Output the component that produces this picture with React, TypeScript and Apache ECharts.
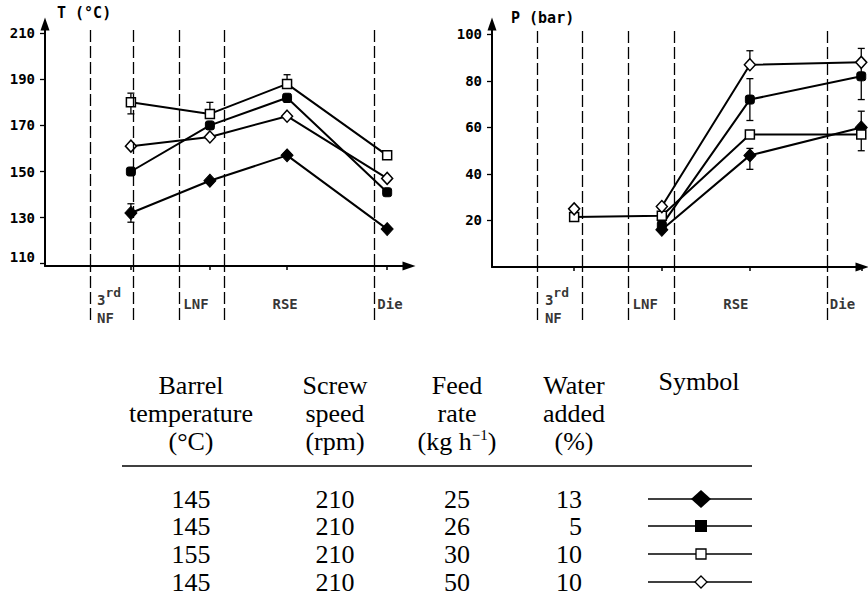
import React, { useEffect, useRef } from "react";
import * as echarts from "echarts";

// ---------- data ----------
// extruder zones (positions along the barrel, arbitrary length units 0–100)
const zoneNames = ["3rd NF", "LNF", "RSE", "Die"];
const zoneBoundaries = [12.3, 24.3, 36.8, 49.2, 90.5];
const zoneLabelX = [14.3, 38, 62.5, 91.3];

// temperature chart T (°C)
const tStagePos = [23.6, 45.3, 66.5, 94];
const tTicks = [110, 130, 150, 170, 190, 210];
const tDiamondFilled = [132, 146, 157, 125];
const tSquareFilled = [150, 170, 182, 141];
const tSquareOpen = [180, 175, 188, 157];
const tDiamondOpen = [161, 165, 174, 147];
// error bars: [series, stage index, low, high]
const tErrors: [string, number, number, number][] = [
  ["squareOpen", 0, 175, 184],
  ["squareOpen", 1, 175, 180],
  ["squareOpen", 2, 188, 192],
  ["diamondFilled", 0, 128, 136],
  ["squareFilled", 2, 180, 182],
];

// pressure chart P (bar)
const pStagePos = [22.2, 45.9, 69.7, 99.8];
const pTicks = [20, 40, 60, 80, 100];
const pDiamondFilled = [null, 16, 48, 60];
const pSquareFilled = [null, 18, 72, 82];
const pSquareOpen = [21.5, 22, 57, 57];
const pDiamondOpen = [25, 26, 87, 88];
const pUnlinkedStages: Record<string, number[]> = { diamondOpen: [0] };
const pErrors: [string, number, number, number][] = [
  ["diamondOpen", 2, 87, 93],
  ["squareFilled", 2, 63, 81],
  ["diamondFilled", 2, 42, 51],
  ["diamondOpen", 3, 88, 94],
  ["squareFilled", 3, 72, 88],
  ["diamondFilled", 3, 61, 67],
  ["squareOpen", 3, 50, 57],
];

// table
const tableHeaders = [
  ["Barrel", "temperature", "(°C)"],
  ["Screw", "speed", "(rpm)"],
  ["Feed", "rate", "(kg h{s|\u22121})"],
  ["Water", "added", "(%)"],
  ["Symbol"],
];
const seriesKeys = ["diamondFilled", "squareFilled", "squareOpen", "diamondOpen"];
const barrelTemp = [145, 145, 155, 145];
const screwSpeed = [210, 210, 210, 210];
const feedRate = [25, 26, 30, 50];
const waterAdded = [13, 5, 10, 10];

// ---------- styles ----------
const MONO = '"DejaVu Sans Mono", monospace';
const SERIF = '"Liberation Serif", "Times New Roman", serif';
const MONO_WEIGHT = "bold";

const markers: Record<string, any> = {
  diamondFilled: { symbol: "diamond", size: [12, 13], fill: "#000", border: 1 },
  squareFilled: { symbol: "roundRect", size: [9, 9], fill: "#000", border: 1 },
  squareOpen: { symbol: "rect", size: [9, 9], fill: "#fff", border: 1.5 },
  diamondOpen: { symbol: "diamond", size: [11, 12], fill: "#fff", border: 1.5 },
};

function lineSeries(key: string, values: (number | null)[], pos: number[], ax: number, unlinked: number[] = []) {
  const m = markers[key];
  const linked: number[][] = [];
  const loose: number[][] = [];
  values.forEach((v, i) => {
    if (v == null) return;
    (unlinked.includes(i) ? loose : linked).push([pos[i], v]);
  });
  const common = {
    xAxisIndex: ax,
    yAxisIndex: ax,
    symbol: m.symbol,
    symbolSize: m.size,
    silent: true,
    emphasis: { disabled: true },
    itemStyle: { color: m.fill, borderColor: "#000", borderWidth: m.border, opacity: 1 },
    z: 4,
  };
  const out: any[] = [
    { type: "line", ...common, data: linked, showAllSymbol: true, lineStyle: { color: "#000", width: 2 } },
  ];
  if (loose.length) out.push({ type: "scatter", ...common, data: loose });
  return out;
}

function errorSeries(errors: [string, number, number, number][], pos: number[], ax: number, yMin: number, yDashTop: number) {
  return {
    type: "custom",
    xAxisIndex: ax,
    yAxisIndex: ax,
    silent: true,
    z: 3,
    data: errors.map(([, s, lo, hi]) => [pos[s], lo, hi]),
    encode: { x: 0, y: [1, 2] },
    renderItem: (_p: any, api: any) => {
      const x = api.value(0);
      const a = api.coord([x, api.value(1)]);
      const b = api.coord([x, api.value(2)]);
      const c = 3.5;
      const st = { stroke: "#000", lineWidth: 1.3 };
      return {
        type: "group",
        children: [
          { type: "line", shape: { x1: a[0], y1: a[1], x2: b[0], y2: b[1] }, style: st },
          { type: "line", shape: { x1: a[0] - c, y1: a[1], x2: a[0] + c, y2: a[1] }, style: st },
          { type: "line", shape: { x1: b[0] - c, y1: b[1], x2: b[0] + c, y2: b[1] }, style: st },
        ],
      };
    },
    markLine: {
      silent: true,
      symbol: ["none", "none"],
      label: { show: false },
      lineStyle: { type: [12, 4], color: "#000", width: 1.3 },
      data: zoneBoundaries.map((b) => [{ coord: [b, yMin] }, { coord: [b, yDashTop] }]),
    },
  };
}

function zoneLabel(name: string) {
  const m = name.match(/^(\d+)(st|nd|rd|th) (.*)$/);
  if (m) return `{n|${m[1]}}{s|${m[2]}}\n{n|${m[3]}}`;
  return `{n|${name}}`;
}

function stripSeries(ax: number) {
  return {
    type: "scatter",
    xAxisIndex: ax,
    yAxisIndex: ax,
    symbolSize: 0,
    silent: true,
    data: zoneNames.map((n, i) => ({ name: n, value: [zoneLabelX[i], n.includes(" ") ? 0.2 : 0.3] })),
    label: {
      show: true,
      position: "right",
      distance: 0,
      color: "#000",
      fontFamily: MONO,
      fontSize: 14,
      fontWeight: MONO_WEIGHT,
      formatter: (p: any) => zoneLabel(p.name),
      rich: {
        n: { fontFamily: MONO, fontSize: 14, fontWeight: MONO_WEIGHT, lineHeight: 18, color: "#000" },
        s: { fontFamily: MONO, fontSize: 13, fontWeight: MONO_WEIGHT, lineHeight: 18, padding: [0, 0, 16, 0], color: "#000" },
      },
    },
    markLine: {
      silent: true,
      symbol: ["none", "none"],
      label: { show: false },
      lineStyle: { type: [12, 4], color: "#000", width: 1.3 },
      data: zoneBoundaries.map((b) => ({ xAxis: b })),
    },
  };
}

function mainXAxis(gridIndex: number, pos: number[]) {
  return {
    type: "value",
    gridIndex,
    min: 0,
    max: 100,
    axisLine: {
      show: true,
      symbol: ["none", "triangle"],
      symbolSize: [9, 13],
      lineStyle: { color: "#000", width: 2 },
    },
    axisTick: { show: true, customValues: pos, length: 4, lineStyle: { color: "#000", width: 1.5 } },
    axisLabel: { show: false },
    splitLine: { show: false },
  };
}

function mainYAxis(gridIndex: number, min: number, max: number, ticks: number[], raiseFirst: boolean) {
  return {
    type: "value",
    gridIndex,
    min,
    max,
    axisLine: {
      show: true,
      symbol: ["none", "triangle"],
      symbolSize: [9, 13],
      lineStyle: { color: "#000", width: 2 },
    },
    axisTick: { show: true, customValues: ticks, length: 5, lineStyle: { color: "#000", width: 1.3 } },
    axisLabel: {
      show: true,
      customValues: ticks,
      margin: 10,
      color: "#000",
      fontFamily: MONO,
      fontSize: 14,
      fontWeight: MONO_WEIGHT,
      formatter: (v: number) => (raiseFirst && v === ticks[0] ? `{lo|${v}}` : `${v}`),
      rich: { lo: { fontFamily: MONO, fontSize: 14, fontWeight: MONO_WEIGHT, color: "#000", padding: [0, 0, 14, 0] } },
    },
    splitLine: { show: false },
  };
}

function hiddenAxis(gridIndex: number, min: number, max: number) {
  return { type: "value", gridIndex, min, max, show: false };
}

function buildTable() {
  const els: any[] = [];
  const colX = [191, 335, 457, 574, 699];
  const headY = [385, 413, 441];
  const rowY = [499, 526, 554, 582];
  const FS = 26;
  const font = `${FS}px ${SERIF}`;
  const txt = (text: string, x: number, y: number, align = "center", rich = false) => ({
    type: "text",
    x,
    y,
    silent: true,
    style: {
      text,
      fill: "#000",
      font,
      fontFamily: SERIF,
      fontSize: FS,
      textAlign: align,
      align,
      textVerticalAlign: "middle",
      verticalAlign: "middle",
      ...(rich
        ? {
            rich: {
              s: { fontFamily: SERIF, fontSize: 15, fill: "#000", padding: [0, 0, 12, 0], lineHeight: FS },
            },
          }
        : {}),
    },
  });
  tableHeaders.forEach((lines, c) => {
    lines.forEach((l, r) => els.push(txt(l, colX[c], headY[r] - (c === 4 ? 4 : 0), "center", l.includes("{s|"))));
  });
  els.push({
    type: "line",
    silent: true,
    shape: { x1: 122, y1: 466, x2: 752, y2: 466 },
    style: { stroke: "#000", lineWidth: 1.5 },
  });
  const cols = [barrelTemp, screwSpeed, feedRate];
  seriesKeys.forEach((key, i) => {
    const y = rowY[i];
    cols.forEach((arr, c) => els.push(txt(String(arr[i]), colX[c], y)));
    els.push(txt(String(waterAdded[i]), 582, y, "right"));
    els.push({ type: "line", silent: true, shape: { x1: 648, y1: y, x2: 752, y2: y }, style: { stroke: "#000", lineWidth: 1.3 } });
    const mx = 701;
    if (key === "diamondFilled")
      els.push({ type: "polygon", silent: true, x: mx, y, shape: { points: [[0, -9], [10, 0], [0, 9], [-10, 0]] }, style: { fill: "#000" } });
    if (key === "squareFilled")
      els.push({ type: "rect", silent: true, x: mx - 6, y: y - 6, shape: { x: 0, y: 0, width: 12, height: 12 }, style: { fill: "#000" } });
    if (key === "squareOpen")
      els.push({ type: "rect", silent: true, x: mx - 5, y: y - 5, shape: { x: 0, y: 0, width: 10, height: 10 }, style: { fill: "#fff", stroke: "#000", lineWidth: 1.3 } });
    if (key === "diamondOpen")
      els.push({ type: "polygon", silent: true, x: mx, y, shape: { points: [[0, -6], [6, 0], [0, 6], [-6, 0]] }, style: { fill: "#fff", stroke: "#000", lineWidth: 1.3 } });
  });
  return els;
}

export default function App() {
  const ref = useRef<HTMLDivElement>(null);
  useEffect(() => {
    document.body.style.margin = "0";
    const chart = echarts.init(ref.current!, undefined, { renderer: "svg" });
    const tMin = 109, tMax = 214, pMin = 0, pMax = 104.5;
    const tSeries: Record<string, (number | null)[]> = {
      diamondFilled: tDiamondFilled,
      squareFilled: tSquareFilled,
      squareOpen: tSquareOpen,
      diamondOpen: tDiamondOpen,
    };
    const pSeries: Record<string, (number | null)[]> = {
      diamondFilled: pDiamondFilled,
      squareFilled: pSquareFilled,
      squareOpen: pSquareOpen,
      diamondOpen: pDiamondOpen,
    };
    const series: any[] = [];
    series.push(errorSeries(tErrors, tStagePos, 0, tMin, tMax - 2.6));
    series.push(errorSeries(pErrors, pStagePos, 2, pMin, pMax - 2.6));
    seriesKeys.forEach((k) => series.push(...lineSeries(k, tSeries[k], tStagePos, 0)));
    seriesKeys.forEach((k) => series.push(...lineSeries(k, pSeries[k], pStagePos, 2, pUnlinkedStages[k] || [])));
    series.push(stripSeries(1));
    series.push(stripSeries(3));

    const titleStyle = { fontFamily: MONO, fontSize: 15, fontWeight: MONO_WEIGHT, color: "#000" };
    chart.setOption({
      animation: false,
      backgroundColor: "#fff",
      title: [
        { text: "T (°C)", left: 57, top: 5, padding: 0, textStyle: titleStyle },
        { text: "P (bar)", left: 511, top: 10, padding: 0, textStyle: titleStyle },
      ],
      grid: [
        { left: 45, top: 24, width: 364, height: 242 },
        { left: 45, top: 266, width: 364, height: 54 },
        { left: 492, top: 24, width: 370, height: 243 },
        { left: 492, top: 267, width: 370, height: 53 },
      ],
      xAxis: [mainXAxis(0, tStagePos), hiddenAxis(1, 0, 100), mainXAxis(2, pStagePos), hiddenAxis(3, 0, 100)],
      yAxis: [
        mainYAxis(0, tMin, tMax, tTicks, true),
        hiddenAxis(1, 0, 1),
        mainYAxis(2, pMin, pMax, pTicks, false),
        hiddenAxis(3, 0, 1),
      ],
      series,
      graphic: { elements: buildTable() },
    });
    return () => chart.dispose();
  }, []);
  return <div ref={ref} style={{ width: 868, height: 597 }} />;
}
